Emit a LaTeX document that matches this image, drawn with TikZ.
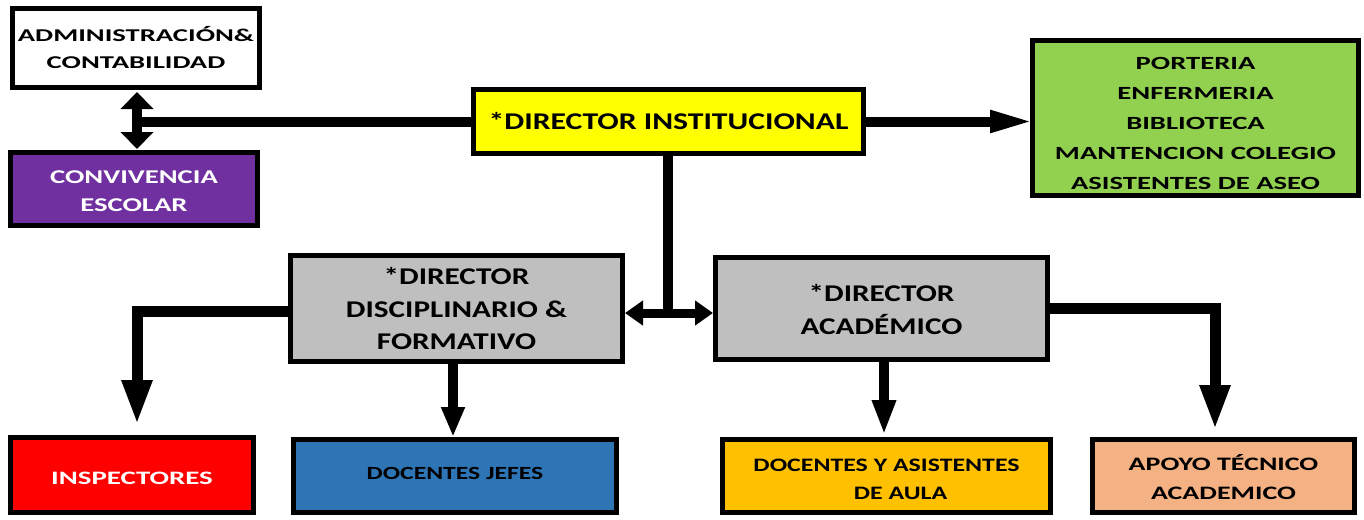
\documentclass[tikz,border=0pt]{standalone}
\usepackage{fontspec}
\setmainfont{Carlito}
\newfontfamily\fAdm[FakeStretch=1.59]{Carlito}
\newfontfamily\fConv[FakeStretch=1.47]{Carlito}
\newfontfamily\fDi[FakeStretch=1.32]{Carlito}
\newfontfamily\fGr[FakeStretch=1.54]{Carlito}
\newfontfamily\fDd[FakeStretch=1.30]{Carlito}
\newfontfamily\fInsp[FakeStretch=1.52]{Carlito}
\newfontfamily\fDj[FakeStretch=1.38]{Carlito}
\newfontfamily\fDya[FakeStretch=1.36]{Carlito}
\newfontfamily\fApo[FakeStretch=1.47]{Carlito}
\usetikzlibrary{arrows.meta,calc}
\definecolor{cyellow}{HTML}{FFFF00}
\definecolor{cgreen}{HTML}{92D050}
\definecolor{cpurple}{HTML}{7030A0}
\definecolor{cgray}{HTML}{BFBFBF}
\definecolor{cred}{HTML}{FF0000}
\definecolor{cblue}{HTML}{2E75B6}
\definecolor{corange}{HTML}{FFC000}
\definecolor{cpeach}{HTML}{F4B183}
\tikzset{
  box/.style={draw=black, line width=5pt, inner sep=0pt, align=center},
  conn/.style={draw=black, line width=10pt},
}
\begin{document}
\begin{tikzpicture}[x=1pt,y=-1pt]
\useasboundingbox (0,0) rectangle (1364,519);
% boxes
\node[box, fill=white, minimum width=247, minimum height=79, font=\fAdm\bfseries\fontsize{18}{27}\selectfont] (adm) at (136,48) {ADMINISTRACIÓN\&\\CONTABILIDAD};
\node[box, fill=cpurple, text=white, minimum width=247, minimum height=73, font=\fConv\bfseries\fontsize{19.5}{28}\selectfont] (conv) at (134,189) {\rule{0pt}{17pt}CONVIVENCIA\\ESCOLAR};
\node[box, fill=cyellow, minimum width=390, minimum height=64, font=\fDi\bfseries\fontsize{24}{28}\selectfont] (di) at (668.5,121.5) {*DIRECTOR INSTITUCIONAL};
\node[box, fill=cgreen, minimum width=326, minimum height=155, font=\fGr\bfseries\fontsize{18.6}{30.2}\selectfont] (gr) at (1195.5,118) {\rule{0pt}{23pt}PORTERIA\\ENFERMERIA\\BIBLIOTECA\\MANTENCION COLEGIO\\ASISTENTES DE ASEO};
\node[box, fill=cgray, minimum width=332, minimum height=106, font=\fDd\bfseries\fontsize{24}{32.5}\selectfont] (dd) at (456.5,308.5) {*DIRECTOR\\DISCIPLINARIO \&\\FORMATIVO};
\node[box, fill=cgray, minimum width=332, minimum height=102, font=\fDd\bfseries\fontsize{24}{33}\selectfont] (da) at (881.5,308.5) {\rule{0pt}{19pt}*DIRECTOR\\ACADÉMICO};
\node[box, fill=cred, text=white, minimum width=243, minimum height=75, font=\fInsp\bfseries\fontsize{19}{28}\selectfont] (insp) at (132,475) {\rule{0pt}{19pt}INSPECTORES};
\node[box, fill=cblue, minimum width=323, minimum height=73, font=\fDj\bfseries\fontsize{18.6}{28}\selectfont] (dj) at (455,476) {DOCENTES JEFES\rule[-6pt]{0pt}{6pt}};
\node[box, fill=corange, minimum width=328, minimum height=73, font=\fDya\bfseries\fontsize{19}{28}\selectfont] (dya) at (886.5,476) {\rule{0pt}{18.5pt}DOCENTES Y ASISTENTES\\\hspace*{28pt}DE AULA};
\node[box, fill=cpeach, minimum width=262, minimum height=73, font=\fApo\bfseries\fontsize{19}{29}\selectfont] (apo) at (1223.5,476) {\rule{0pt}{18.5pt}APOYO TÉCNICO\\ACADEMICO};
% junction coordinates
\coordinate (jl) at (137,121.5);
\coordinate (jm) at (668,313);
\coordinate (jdl) at (137,311);
\coordinate (jar) at (1215,308);
% connectors
\draw[conn] (di.west) -- (jl);
\draw[conn, {Triangle[width=32pt,length=17pt]}-{Triangle[width=32pt,length=17pt]}, shorten <=2pt, shorten >=1pt] (adm.south -| jl) -- (conv.north -| jl);
\draw[conn, -{Triangle[width=20pt,length=45pt]}, shorten >=-5pt] (di.east) -- (gr.west |- di.east);
\draw[conn] (di.south -| jm) -- (jm);
\draw[conn, line width=9pt, {Triangle[width=24pt,length=18pt]}-{Triangle[width=24pt,length=18pt]}] (dd.east |- jm) -- (da.west |- jm);
\draw[conn, line width=11pt, -{Triangle[width=28pt,length=45pt]}, shorten >=10pt] (dd.west |- jdl) -- (jdl) -- (jdl |- insp.north);
\draw[conn, -{Triangle[width=22pt,length=30pt]}] (dd.south -| 453,0) -- (dj.north -| 453,0);
\draw[conn, -{Triangle[width=22pt,length=35pt]}, shorten >=2pt] (da.south -| 884,0) -- (dya.north -| 884,0);
\draw[conn, line width=11pt, -{Triangle[width=28pt,length=45pt]}, shorten >=7pt] (da.east |- jar) -- (jar) -- (jar |- apo.north);
\end{tikzpicture}
\end{document}
